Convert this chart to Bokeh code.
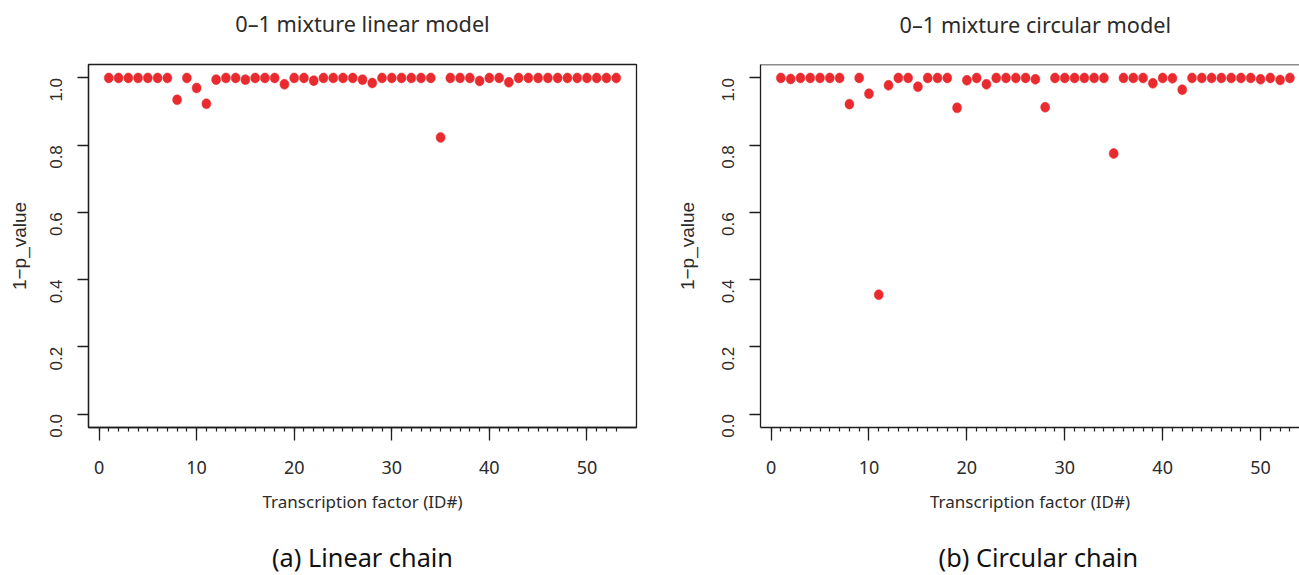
from bokeh.plotting import figure
from bokeh.models import FixedTicker, PrintfTickFormatter, Span, Range1d, ColumnDataSource, Label
from bokeh.layouts import row, column
from bokeh.embed import file_html
from bokeh.resources import INLINE
import math

# ---------------- data ----------------
tf_ids = list(range(1, 54))

linear_vals = [1.0, 1.0, 1.0, 1.0, 1.0, 1.0, 1.0, 0.935, 1.0, 0.970,
               0.923, 0.995, 1.0, 1.0, 0.995, 1.0, 1.0, 1.0, 0.981, 1.0,
               1.0, 0.992, 1.0, 1.0, 1.0, 1.0, 0.995, 0.985, 1.0, 1.0,
               1.0, 1.0, 1.0, 1.0, 0.823, 1.0, 1.0, 1.0, 0.991, 1.0,
               1.0, 0.987, 1.0, 1.0, 1.0, 1.0, 1.0, 1.0, 1.0, 1.0,
               1.0, 1.0, 1.0]

circular_vals = [1.0, 0.997, 1.0, 1.0, 1.0, 1.0, 1.0, 0.922, 1.0, 0.953,
                 0.355, 0.978, 1.0, 1.0, 0.974, 1.0, 1.0, 1.0, 0.911, 0.993,
                 1.0, 0.981, 1.0, 1.0, 1.0, 1.0, 0.996, 0.913, 1.0, 1.0,
                 1.0, 1.0, 1.0, 1.0, 0.775, 1.0, 1.0, 1.0, 0.984, 1.0,
                 0.999, 0.965, 1.0, 1.0, 1.0, 1.0, 1.0, 1.0, 1.0, 0.996,
                 1.0, 0.994, 1.0]

x_major_ticks = [0, 10, 20, 30, 40, 50]
x_minor_ticks = list(range(0, 54))
y_ticks = [0.0, 0.2, 0.4, 0.6, 0.8, 1.0]

titles = ["0\u20131 mixture linear model", "0\u20131 mixture circular model"]
captions = ["(a) Linear chain", "(b) Circular chain"]
x_label = "Transcription factor (ID#)"
y_label = "1\u2212p_value"

POINT_COLOR = "#E92B2F"
LINE_COLOR = "#1e1e1e"
TEXT_COLOR = "#2b2b2b"
SANS = "Noto Sans"
HELV = "Liberation Sans"

TOP_H = 45
BOT_H = 40
PLOT_H = 575 - TOP_H - BOT_H


def text_strip(text, width, height, bl, br, x_end, text_x, text_y, size, color):
    s = figure(width=width, height=height, output_backend="svg",
               toolbar_location=None, tools="",
               x_range=Range1d(-1.08, x_end), y_range=Range1d(0, 1),
               x_axis_type=None, y_axis_type=None,
               min_border_left=bl, min_border_right=br,
               min_border_top=0, min_border_bottom=0)
    s.outline_line_color = None
    s.xgrid.visible = False
    s.ygrid.visible = False
    s.add_layout(Label(x=text_x, y=text_y, text=text, text_align="center",
                       text_baseline="middle", text_font=SANS,
                       text_font_size=size, text_color=color))
    return s


def make_panel(vals, width, bl, br, bt, bb, x_end, outline, ylabel_standoff):
    p = figure(width=width, height=PLOT_H, output_backend="svg",
               toolbar_location=None, tools="",
               x_range=Range1d(-1.08, x_end), y_range=Range1d(-0.04, 1.04),
               min_border_left=bl, min_border_right=br,
               min_border_top=bt, min_border_bottom=bb)
    p.xgrid.visible = False
    p.ygrid.visible = False
    if outline:
        p.outline_line_color = LINE_COLOR
        p.outline_line_width = 1.3
    else:
        p.outline_line_color = None
        p.add_layout(Span(location=1.04, dimension="width",
                          line_color=LINE_COLOR, line_width=1.3))

    # x axis
    xa = p.xaxis[0]
    xa.ticker = FixedTicker(ticks=x_major_ticks, minor_ticks=x_minor_ticks)
    xa.axis_line_color = LINE_COLOR
    xa.axis_line_width = 1.3
    xa.major_tick_line_color = LINE_COLOR
    xa.major_tick_line_width = 1.3
    xa.major_tick_out = 13
    xa.major_tick_in = 0
    xa.minor_tick_line_color = LINE_COLOR
    xa.minor_tick_line_width = 1.2
    xa.minor_tick_out = 4
    xa.minor_tick_in = 0
    xa.major_label_text_font = SANS
    xa.major_label_text_font_size = "18px"
    xa.major_label_text_color = TEXT_COLOR
    xa.major_label_standoff = 20
    xa.axis_label = x_label
    xa.axis_label_text_font = SANS
    xa.axis_label_text_font_size = "17px"
    xa.axis_label_text_font_style = "normal"
    xa.axis_label_text_color = TEXT_COLOR
    xa.axis_label_standoff = 13

    # y axis
    ya = p.yaxis[0]
    ya.ticker = FixedTicker(ticks=y_ticks)
    ya.formatter = PrintfTickFormatter(format="%.1f")
    ya.axis_line_color = LINE_COLOR
    ya.axis_line_width = 1.3
    ya.major_tick_line_color = LINE_COLOR
    ya.major_tick_line_width = 1.3
    ya.major_tick_out = 11
    ya.major_tick_in = 0
    ya.minor_tick_line_color = None
    ya.major_label_orientation = math.pi / 2
    ya.major_label_text_font = HELV
    ya.major_label_text_font_size = "17px"
    ya.major_label_text_color = TEXT_COLOR
    ya.major_label_standoff = 21
    ya.axis_label = y_label
    ya.axis_label_text_font = HELV
    ya.axis_label_text_font_size = "19px"
    ya.axis_label_text_font_style = "normal"
    ya.axis_label_text_color = TEXT_COLOR
    ya.axis_label_standoff = ylabel_standoff

    src = ColumnDataSource(data=dict(x=tf_ids, y=vals))
    p.ellipse(x="x", y="y", width=9, height=10, width_units="screen",
              height_units="screen", source=src,
              fill_color=POINT_COLOR, line_color=POINT_COLOR, line_width=0.5)
    return p


W1, W2 = 670, 629

t1 = text_strip(titles[0], W1, TOP_H, 88, 34, 55.08, 27.0, 1 - 23 / TOP_H, "21.7px", TEXT_COLOR)
t2 = text_strip(titles[1], W2, TOP_H, 90, 0, 53.98, 27.0, 1 - 24 / TOP_H, "21.7px", TEXT_COLOR)

p1 = make_panel(linear_vals, W1, bl=88, br=34, bt=63 - TOP_H,
                bb=(575 - BOT_H) - 430, x_end=55.08, outline=True,
                ylabel_standoff=12)
p2 = make_panel(circular_vals, W2, bl=90, br=0, bt=64 - TOP_H,
                bb=(575 - BOT_H) - 427, x_end=53.98, outline=False,
                ylabel_standoff=16)

c1 = text_strip(captions[0], W1, BOT_H, 88, 34, 55.08, 27.0, 1 - 21 / BOT_H, "25.3px", "#111111")
c2 = text_strip(captions[1], W2, BOT_H, 90, 0, 53.98, 27.3, 1 - 21 / BOT_H, "25.3px", "#111111")

layout = column(row(t1, t2, spacing=0), row(p1, p2, spacing=0),
                row(c1, c2, spacing=0), spacing=0)
open("out.html", "w").write(file_html(layout, INLINE))
